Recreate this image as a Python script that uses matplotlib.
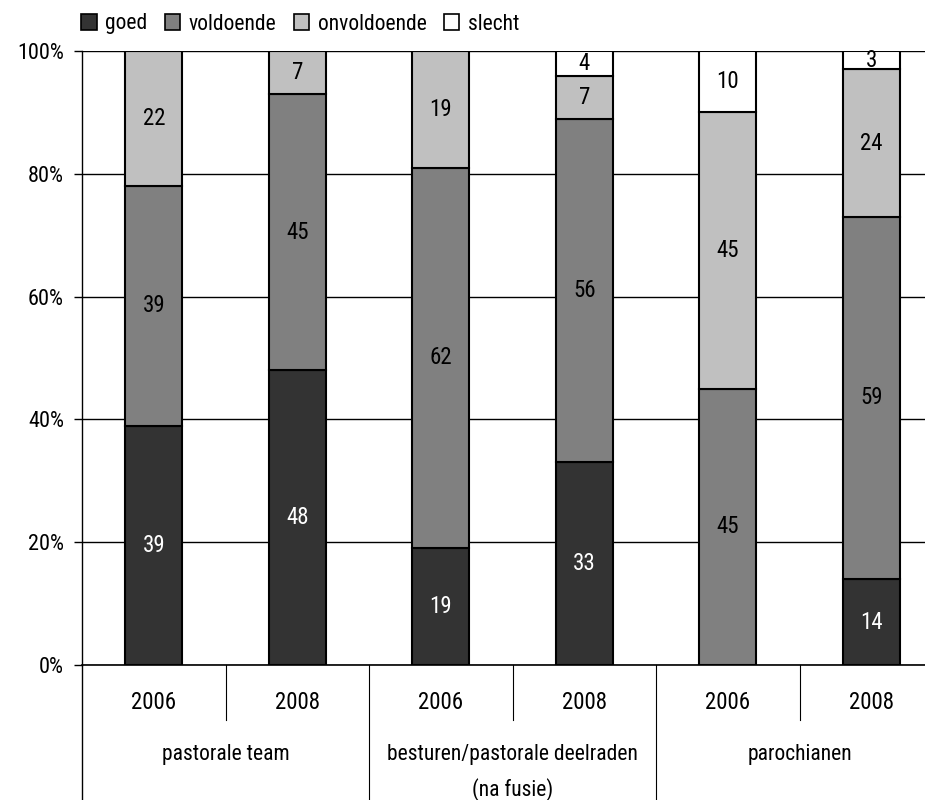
import numpy as np
import matplotlib.pyplot as plt
from matplotlib.lines import Line2D
from matplotlib.patches import Patch

plt.rcParams["font.family"] = ["Roboto Condensed", "DejaVu Sans"]
plt.rcParams["font.stretch"] = "condensed"

years = ["2006", "2008", "2006", "2008", "2006", "2008"]
groups = ["pastorale team", "besturen/pastorale deelraden\n(na fusie)", "parochianen"]
series = ["goed", "voldoende", "onvoldoende", "slecht"]
goed = [39, 48, 19, 33, 0, 14]
voldoende = [39, 45, 62, 56, 45, 59]
onvoldoende = [22, 7, 19, 7, 45, 24]
slecht = [0, 0, 0, 4, 10, 3]

colors = ["#333333", "#808080", "#c0c0c0", "#ffffff"]
text_colors = ["white", "black", "black", "black"]
NUM_FS = 16.5
TXT_FS = 15.5

fig = plt.figure(figsize=(9.25, 8), dpi=100)
ax = fig.add_axes([82 / 925, 135 / 800, 861 / 925, 614 / 800])

x = np.arange(len(years))
bottom = np.zeros(len(years))
for vals, name, c, tc in zip([goed, voldoende, onvoldoende, slecht], series, colors, text_colors):
    vals = np.array(vals, dtype=float)
    ax.bar(x, vals, 0.4, bottom=bottom, color=c, edgecolor="black", linewidth=1.5,
           label=name, zorder=3)
    for xi, b, v in zip(x, bottom, vals):
        if v > 0:
            ax.text(xi, b + v / 2, f"{int(v)}", ha="center", va="center",
                    color=tc, fontsize=NUM_FS, zorder=4)
    bottom += vals

ax.set_xlim(-0.5, len(years) - 0.5)
ax.set_ylim(0, 100)
ax.set_yticks(range(0, 101, 20))
ax.set_yticklabels([f"{t}%" for t in range(0, 101, 20)], fontsize=16)
ax.yaxis.grid(True, color="black", linewidth=1, zorder=0)
ax.set_xticks([])
ax.tick_params(axis="y", direction="out", length=6, width=1, pad=7)
for s in ["top", "right"]:
    ax.spines[s].set_visible(False)
ax.spines["left"].set_linewidth(1)
ax.spines["bottom"].set_linewidth(1.2)

# two-level category axis
tr = ax.get_xaxis_transform()
for i, y in enumerate(years):
    ax.text(i, -0.0603, y, transform=tr, ha="center", va="center", fontsize=NUM_FS)
for g, name in enumerate(groups):
    ax.text(2 * g + 0.5, -0.128, name, transform=tr, ha="center", va="top",
            fontsize=TXT_FS, linespacing=1.75)
for i in range(1, len(years)):
    end = -0.23 if i % 2 == 0 else -0.0896
    ax.add_line(Line2D([i - 0.5, i - 0.5], [0, end], transform=tr, color="black",
                       linewidth=0.8, clip_on=False))
ax.add_line(Line2D([-0.5, -0.5], [0, -0.23], transform=tr, color="black",
                   linewidth=1, clip_on=False))

handles = [Patch(facecolor=c, edgecolor="black", linewidth=1.2) for c in colors]
fig.legend(handles, series, loc="center left", bbox_to_anchor=(81 / 925, 1 - 24 / 800),
           ncol=4, frameon=False, fontsize=TXT_FS, handlelength=0.72, handleheight=0.72,
           handletextpad=0.4, columnspacing=0.8, borderaxespad=0, borderpad=0)

fig.savefig("out.png", dpi=100)
